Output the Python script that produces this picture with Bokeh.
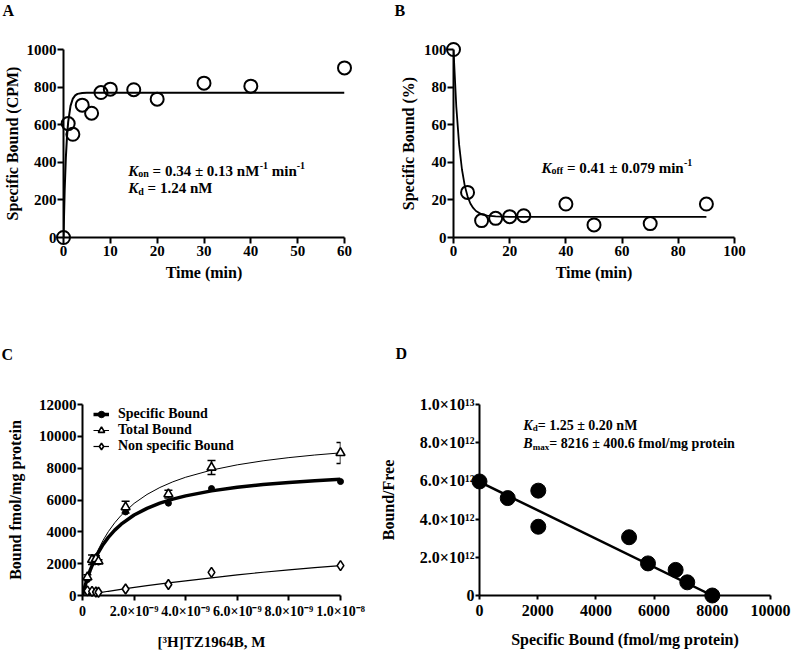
from bokeh.plotting import figure
from bokeh.layouts import row, column
from bokeh.models import (Label, FixedTicker, Whisker, TeeHead, ColumnDataSource,
                          Legend, LegendItem, Range1d, Title)
from bokeh.embed import file_html
from bokeh.resources import INLINE

FONT = "Liberation Serif"

# ---------------- data ----------------
# Panel A: association
a_time = [0, 1, 2, 4, 6, 8, 10, 15, 20, 30, 40, 60]
a_bound = [0, 606, 549, 704, 661, 771, 789, 786, 736, 821, 805, 902]
a_fit_time = [0, 0.25, 0.5, 0.75, 1, 1.5, 2, 2.5, 3, 4, 5, 6, 8, 10, 60]
a_fit_bound = [0, 254, 424, 538, 615, 700, 739, 756, 764, 769, 770, 770, 770, 770, 770]
a_xticks = [0, 10, 20, 30, 40, 50, 60]
a_yticks = [0, 200, 400, 600, 800, 1000]

# Panel B: dissociation
b_time = [0, 5, 10, 15, 20, 25, 40, 50, 70, 90]
b_bound = [100, 24, 9, 10.2, 11.1, 11.6, 17.8, 6.7, 7.4, 17.8]
b_fit_time = [0, 1, 2, 3, 4, 5, 6, 7, 8, 10, 12, 15, 20, 90]
b_fit_bound = [100, 69.5, 49.4, 36.3, 27.6, 21.9, 18.1, 15.7, 14.1, 12.3, 11.6, 11.2, 11.0, 11.0]
b_xticks = [0, 20, 40, 60, 80, 100]
b_yticks = [0, 20, 40, 60, 80, 100]

# Panel C: saturation
c_conc = [0.19e-9, 0.37e-9, 0.52e-9, 0.62e-9, 1.67e-9, 3.33e-9, 5.0e-9, 1.0e-8]
c_specific = [1000, 2150, 2200, 2100, 5250, 5800, 6720, 7160]
c_total = [1150, 2250, 2300, 2150, 5550, 6370, 8040, 8960]
c_total_err = [150, 300, 200, 100, 370, 250, 440, 660]
c_nonspecific = [290, 260, 220, 200, 410, 690, 1450, 1880]
c_fit_conc = [0, 0.1e-9, 0.2e-9, 0.3e-9, 0.4e-9, 0.5e-9, 0.6e-9, 0.8e-9, 1.0e-9, 1.25e-9,
              1.5e-9, 2.0e-9, 2.5e-9, 3.0e-9, 3.5e-9, 4.0e-9, 5.0e-9, 6.0e-9, 7.0e-9,
              8.0e-9, 9.0e-9, 1.0e-8]
c_fit_specific = [0, 609, 1133, 1590, 1992, 2347, 2665, 3206, 3652, 4108, 4481, 5056, 5477,
                  5799, 6054, 6260, 6573, 6799, 6971, 7105, 7214, 7303]
c_fit_total = [0, 614, 1160, 1648, 2087, 2484, 2845, 3476, 4010, 4571, 5041, 5786, 6348,
               6788, 7141, 7431, 7879, 8209, 8463, 8663, 8826, 8960]
c_fit_ns_conc = [0, 0.5e-9, 1.0e-9, 1.67e-9, 2.5e-9, 3.33e-9, 4.0e-9, 5.0e-9, 6.0e-9,
                 7.0e-9, 8.0e-9, 9.0e-9, 1.0e-8]
c_fit_ns = [0, 135, 265, 430, 620, 790, 920, 1110, 1290, 1460, 1610, 1750, 1880]
c_xticks = [0, 2e-9, 4e-9, 6e-9, 8e-9, 1e-8]
c_xtick_labels = ["0", "2.0×10⁻⁹", "4.0×10⁻⁹", "6.0×10⁻⁹", "8.0×10⁻⁹", "1.0×10⁻⁸"]
c_yticks = [0, 2000, 4000, 6000, 8000, 10000, 12000]

# Panel D: Scatchard
d_bound = [0, 970, 2020, 2020, 5140, 5790, 6740, 7140, 8000]
d_bf = [5.97e12, 5.1e12, 5.49e12, 3.6e12, 3.05e12, 1.68e12, 1.34e12, 0.69e12, 0]
d_fit_bound = [0, 8000]
d_fit_bf = [5.95e12, 0]
d_xticks = [0, 2000, 4000, 6000, 8000, 10000]
d_yticks = [0, 2e12, 4e12, 6e12, 8e12, 1e13]
d_ytick_labels = ["0", "2.0×10¹²", "4.0×10¹²", "6.0×10¹²", "8.0×10¹²", "1.0×10¹³"]

# ---------------- helpers ----------------
BOLD_W = {' ': 250, '.': 250, '-': 333, '/': 278, '=': 570, '±': 570, '(': 333, ')': 333,
          ',': 250, 'a': 500, 'd': 556, 'e': 444, 'f': 333, 'g': 500, 'i': 278, 'l': 278,
          'm': 833, 'n': 556, 'o': 500, 'p': 556, 'r': 444, 't': 333, 'x': 500, 'M': 944,
          'K': 778, 'B': 667}
BI_W = {'K': 667, 'B': 667}


def text_w(s, size, italic=False):
    w = 0
    for ch in s:
        if italic and ch in BI_W:
            w += BI_W[ch]
        else:
            w += BOLD_W.get(ch, 500)
    return w * size / 1000.0


def rich(p, x, y, parts, size):
    off = 0.0
    small = round(size * 0.67)
    for txt, kind in parts:
        if kind in ("sub", "sup"):
            fs = small
            style = "bold"
            dy = -3 if kind == "sub" else round(size * 0.34)
        else:
            fs = size
            style = "bold italic" if kind == "i" else "bold"
            dy = 0
        lead = len(txt) - len(txt.lstrip(" "))
        shown = txt.strip(" ")
        p.add_layout(Label(x=x, y=y, x_offset=off + text_w(" " * lead, fs), y_offset=dy,
                           text=shown, text_font=FONT, text_font_style=style,
                           text_font_size=f"{fs}px", text_color="black",
                           text_baseline="alphabetic", text_align="left"))
        off += text_w(txt, fs, kind == "i")


def make_panel(W, H, origin, ax_x0, ax_x1, ax_ytop, ax_y0, xr, yr):
    """ax_* are pixel positions of the axis ends in reference-image coordinates."""
    ox, oy = origin
    L = ax_x0 - ox
    R = ax_x1 - ox
    T = ax_ytop - oy
    B = ax_y0 - oy
    xpp = (xr[1] - xr[0]) / (R - L)
    ypp = (yr[1] - yr[0]) / (B - T)
    p = figure(width=W, height=H, title=None, output_backend="svg", toolbar_location=None,
               x_range=Range1d(xr[0], xr[1]), y_range=Range1d(yr[0], yr[1]),
               min_border_left=L, min_border_right=W - R,
               min_border_top=T, min_border_bottom=H - B)
    p.outline_line_color = None
    p.grid.visible = False
    p.background_fill_color = "white"
    p.border_fill_color = "white"

    def to_data(rx, ry):
        return xr[0] + (rx - ax_x0) * xpp, yr[0] + (ax_y0 - ry) * ypp
    return p, to_data


def style_axis(ax, ticks, tick_size, label, label_size, tick_out,
               label_standoff, axis_label_standoff, overrides=None):
    ax.ticker = FixedTicker(ticks=ticks)
    ax.axis_line_width = 2
    ax.axis_line_color = "black"
    ax.major_tick_line_width = 2
    ax.major_tick_line_color = "black"
    ax.major_tick_in = 0
    ax.major_tick_out = tick_out
    ax.minor_tick_line_color = None
    ax.major_label_text_font = FONT
    ax.major_label_text_font_style = "bold"
    ax.major_label_text_font_size = f"{tick_size}px"
    ax.major_label_text_color = "black"
    ax.major_label_standoff = label_standoff
    ax.axis_label = label
    ax.axis_label_text_font = FONT
    ax.axis_label_text_font_style = "bold"
    ax.axis_label_text_font_size = f"{label_size}px"
    ax.axis_label_text_color = "black"
    ax.axis_label_standoff = axis_label_standoff
    if overrides:
        ax.major_label_overrides = overrides


def panel_letter(p, txt, offset, n_lines, line_px):
    # multi-line title (letter + empty lines) used to lift the letter towards
    # the top of the canvas without enlarging the top border
    p.add_layout(Title(text=txt + "\n" * (n_lines - 1), align="left", vertical_align="top",
                       offset=offset, standoff=0, text_line_height=line_px / 16.0,
                       text_font=FONT, text_font_style="bold", text_font_size="16px",
                       text_color="black"), "above")


# ---------------- Panel A ----------------
pA, tA = make_panel(384, 320, (8, 8), 70, 352, 57, 245, (0, 60), (0, 1000))
style_axis(pA.xaxis[0], a_xticks, 15, "Time (min)", 16, 6, 2, 5)
style_axis(pA.yaxis[0], a_yticks, 15, "Specific Bound (CPM)", 16, 6, 1, 3)
pA.line(a_fit_time, a_fit_bound, line_color="black", line_width=2)
pA.scatter(a_time, a_bound, marker="circle", size=13, fill_color=None,
           line_color="black", line_width=2, level="overlay")
x, y = tA(135, 178.3)
rich(pA, x, y, [("K", "i"), ("on", "sub"), (" = 0.34 ± 0.13 nM", "b"), ("-1", "sup"),
                (" min", "b"), ("-1", "sup")], 15)
x, y = tA(135, 195.7)
rich(pA, x, y, [("K", "i"), ("d", "sub"), (" = 1.24 nM", "b")], 15)
panel_letter(pA, "A", -61, 3, 13.8)

# ---------------- Panel B ----------------
pB, tB = make_panel(408, 320, (392, 8), 461, 742, 57, 246, (0, 100), (0, 100))
style_axis(pB.xaxis[0], b_xticks, 15, "Time (min)", 16, 6, 2, 5)
style_axis(pB.yaxis[0], b_yticks, 15, "Specific Bound (%)", 16, 6, 1, 4)
pB.line(b_fit_time, b_fit_bound, line_color="black", line_width=1.8)
pB.scatter(b_time, b_bound, marker="circle", size=13, fill_color=None,
           line_color="black", line_width=2, level="overlay")
x, y = tB(549, 175.7)
rich(pB, x, y, [("K", "i"), ("off", "sub"), (" = 0.41 ± 0.079 min", "b"), ("-1", "sup")], 15)
panel_letter(pB, "B", -59, 3, 13.8)

# ---------------- Panel C ----------------
pC, tC = make_panel(376, 332, (8, 328), 90, 348, 412, 608, (0, 1e-8), (0, 12000))
style_axis(pC.xaxis[0], c_xticks, 14, "[³H]TZ1964B, M", 15, 5, 3, 12,
           overrides=dict(zip(c_xticks, c_xtick_labels)))
style_axis(pC.yaxis[0], c_yticks, 15, "Bound fmol/mg protein", 16, 5, 1, 12)

src_tot = ColumnDataSource(dict(x=c_conc,
                                upper=[v + e for v, e in zip(c_total, c_total_err)],
                                lower=[v - e for v, e in zip(c_total, c_total_err)]))
pC.add_layout(Whisker(source=src_tot, base="x", upper="upper", lower="lower",
                      line_color="black", line_width=1.5,
                      upper_head=TeeHead(size=8, line_width=1.5, line_color="black"),
                      lower_head=TeeHead(size=8, line_width=1.5, line_color="black")))
l_tot = pC.line(c_fit_conc, c_fit_total, line_color="black", line_width=1)
l_ns = pC.line(c_fit_ns_conc, c_fit_ns, line_color="black", line_width=1.2)
l_sp = pC.line(c_fit_conc, c_fit_specific, line_color="black", line_width=3.5)
s_sp = pC.scatter(c_conc, c_specific, marker="circle", size=6, fill_color="black",
                  line_color="black", level="overlay")
s_tot = pC.scatter(c_conc, c_total, marker="triangle", size=9, fill_color="white",
                   line_color="black", line_width=1.6, level="overlay")
s_ns = pC.scatter(c_conc, c_nonspecific, marker="diamond", size=10, fill_color="white",
                  line_color="black", line_width=1.6, level="overlay")
leg = Legend(items=[LegendItem(label="Specific Bound", renderers=[l_sp, s_sp]),
                    LegendItem(label="Total Bound", renderers=[l_tot, s_tot]),
                    LegendItem(label="Non specific Bound", renderers=[l_ns, s_ns])],
             location=(11, 141), padding=0, spacing=0, margin=0,
             glyph_width=16, glyph_height=16, label_height=16, label_standoff=9,
             border_line_color=None, background_fill_alpha=0,
             label_text_font=FONT, label_text_font_style="bold",
             label_text_font_size="14px", label_text_color="black")
pC.add_layout(leg)
panel_letter(pC, "C", -81, 2, 37.5)

# ---------------- Panel D ----------------
pD, tD = make_panel(416, 332, (384, 328), 486, 778, 412, 606, (0, 10000), (0, 1e13))
style_axis(pD.xaxis[0], d_xticks, 16, "Specific Bound (fmol/mg protein)", 16, 4, 5, 12)
style_axis(pD.yaxis[0], d_yticks, 16, "Bound/Free", 16, 4, 1, 20,
           overrides=dict(zip(d_yticks, d_ytick_labels)))
pD.line(d_fit_bound, d_fit_bf, line_color="black", line_width=2.5)
pD.scatter(d_bound, d_bf, marker="circle", size=15, fill_color="black", line_color="black",
           level="overlay")
x, y = tD(530, 433.3)
rich(pD, x, y, [("K", "i"), ("d", "sub"), ("= 1.25 ± 0.20 nM", "b")], 14)
x, y = tD(530, 451.7)
rich(pD, x, y, [("B", "i"), ("max", "sub"), ("= 8216 ± 400.6 fmol/mg protein", "b")], 14)
panel_letter(pD, "D", -84, 2, 38.5)

layout = column(row(pA, pB), row(pC, pD))
with open("out.html", "w", encoding="utf-8") as f:
    f.write(file_html(layout, INLINE))
